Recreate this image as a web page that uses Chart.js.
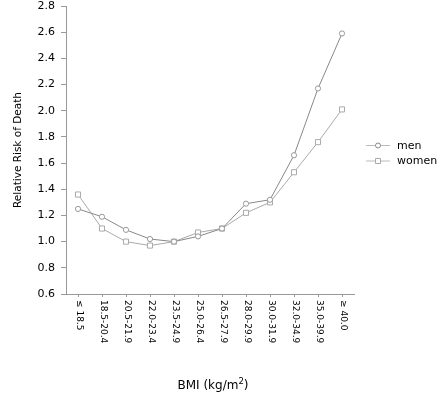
<!DOCTYPE html>
<html>
<head>
<meta charset="utf-8">
<script src="https://cdn.jsdelivr.net/npm/chart.js@4"></script>
<style>
html,body{margin:0;padding:0;background:#fff;}
#wrap{width:444px;height:395px;}
</style>
</head>
<body>
<div id="wrap"><canvas id="c" width="444" height="395"></canvas></div>
<script>
const categories = ["≤ 18.5","18.5-20.4","20.5-21.9","22.0-23.4","23.5-24.9","25.0-26.4","26.5-27.9","28.0-29.9","30.0-31.9","32.0-34.9","35.0-39.9","≥ 40.0"];
const menValues = [1.25,1.19,1.09,1.02,1.00,1.04,1.10,1.29,1.32,1.66,2.17,2.59];
const womenValues = [1.36,1.10,1.00,0.97,1.00,1.07,1.10,1.22,1.30,1.53,1.76,2.01];
const seriesNames = ["men","women"];
const yTitle = "Relative Risk of Death";
const xTitle = "BMI (kg/m";
const xTitleSup = "2";
const yMin = 0.6, yMax = 2.8, yStep = 0.2;

const FONT = "'DejaVu Sans', sans-serif";
const AXIS = "#999";

const customDraw = {
  id: 'customDraw',
  afterDraw(chart) {
    const ctx = chart.ctx;
    const xs = chart.scales.x;
    const area = chart.chartArea;
    ctx.save();
    // x tick labels rotated clockwise
    ctx.fillStyle = "#000";
    ctx.font = "9px " + FONT;
    ctx.textAlign = "left";
    ctx.textBaseline = "middle";
    categories.forEach((lab, i) => {
      const px = xs.getPixelForTick(i);
      ctx.save();
      ctx.translate(px + 1, area.bottom + 6);
      ctx.rotate(Math.PI / 2);
      ctx.fillText(lab, 0, 0);
      ctx.restore();
    });
    // y title
    ctx.font = "10.5px " + FONT;
    ctx.textAlign = "center";
    ctx.textBaseline = "middle";
    ctx.save();
    ctx.translate(18, (area.top + area.bottom) / 2);
    ctx.rotate(-Math.PI / 2);
    ctx.fillText(yTitle, 0, 0);
    ctx.restore();
    // x title with superscript
    ctx.font = "12px " + FONT;
    const w1 = ctx.measureText(xTitle).width;
    ctx.font = "8.5px " + FONT;
    const w2 = ctx.measureText(xTitleSup).width;
    ctx.font = "12px " + FONT;
    const w3 = ctx.measureText(")").width;
    const total = w1 + w2 + w3;
    let sx = (area.left + area.right) / 2 - total / 2 + 3;
    const ty = 385;
    ctx.textAlign = "left";
    ctx.textBaseline = "alphabetic";
    ctx.fillText(xTitle, sx, ty + 4);
    ctx.font = "8.5px " + FONT;
    ctx.fillText(xTitleSup, sx + w1, ty - 1);
    ctx.font = "12px " + FONT;
    ctx.fillText(")", sx + w1 + w2, ty + 4);
    // legend
    const items = chart.data.datasets;
    items.forEach((ds, i) => {
      const ly = 145 + i * 15.5;
      ctx.strokeStyle = "#bbb";
      ctx.lineWidth = 1;
      ctx.beginPath();
      ctx.moveTo(366, ly + 0.5);
      ctx.lineTo(390, ly + 0.5);
      ctx.stroke();
      ctx.fillStyle = "#fff";
      ctx.strokeStyle = ds.borderColor;
      ctx.beginPath();
      if (ds.pointStyle === 'circle') {
        ctx.arc(378, ly + 0.5, 2.5, 0, Math.PI * 2);
      } else {
        ctx.rect(375.5, ly - 2, 5, 5);
      }
      ctx.fill();
      ctx.stroke();
      ctx.fillStyle = "#000";
      ctx.font = "11px " + FONT;
      ctx.textBaseline = "middle";
      ctx.textAlign = "left";
      ctx.fillText(ds.label, 397, ly + 1);
    });
    ctx.restore();
  }
};

new Chart(document.getElementById('c'), {
  type: 'line',
  data: {
    labels: categories,
    datasets: [
      {
        label: seriesNames[0],
        data: menValues,
        borderColor: "#888",
        backgroundColor: "#fff",
        pointStyle: 'circle',
        pointRadius: 2.6,
        pointBorderWidth: 1,
        pointBorderColor: "#999",
        pointBackgroundColor: "#fff",
        borderWidth: 1,
        tension: 0
      },
      {
        label: seriesNames[1],
        data: womenValues,
        borderColor: "#aaa",
        backgroundColor: "#fff",
        pointStyle: 'rect',
        pointRadius: 3.6,
        pointBorderWidth: 1,
        pointBorderColor: "#aaa",
        pointBackgroundColor: "#fff",
        borderWidth: 1,
        tension: 0
      }
    ]
  },
  options: {
    responsive: false,
    animation: false,
    devicePixelRatio: 1,
    layout: { padding: { left: 0, top: 6, right: 90, bottom: 0 } },
    plugins: { legend: { display: false }, tooltip: { enabled: false } },
    scales: {
      x: {
        type: 'category',
        offset: true,
        grid: { display: true, drawOnChartArea: false, drawTicks: true, tickLength: 3, color: AXIS, offset: false },
        border: { display: true, color: AXIS, width: 1 },
        ticks: { display: false },
        afterFit(s) { s.height = 101; s.paddingLeft = 0; s.paddingRight = 0; }
      },
      y: {
        min: yMin,
        max: yMax,
        grid: { display: true, drawOnChartArea: false, drawTicks: true, tickLength: 5, color: AXIS },
        border: { display: true, color: AXIS, width: 1 },
        ticks: {
          stepSize: yStep,
          padding: 6,
          color: "#000",
          font: { family: FONT, size: 11 },
          callback: (v) => Number(v).toFixed(1)
        },
        afterFit(s) { s.width = 66; s.paddingTop = 0; s.paddingBottom = 0; }
      }
    }
  },
  plugins: [customDraw]
});
</script>
</body>
</html>
